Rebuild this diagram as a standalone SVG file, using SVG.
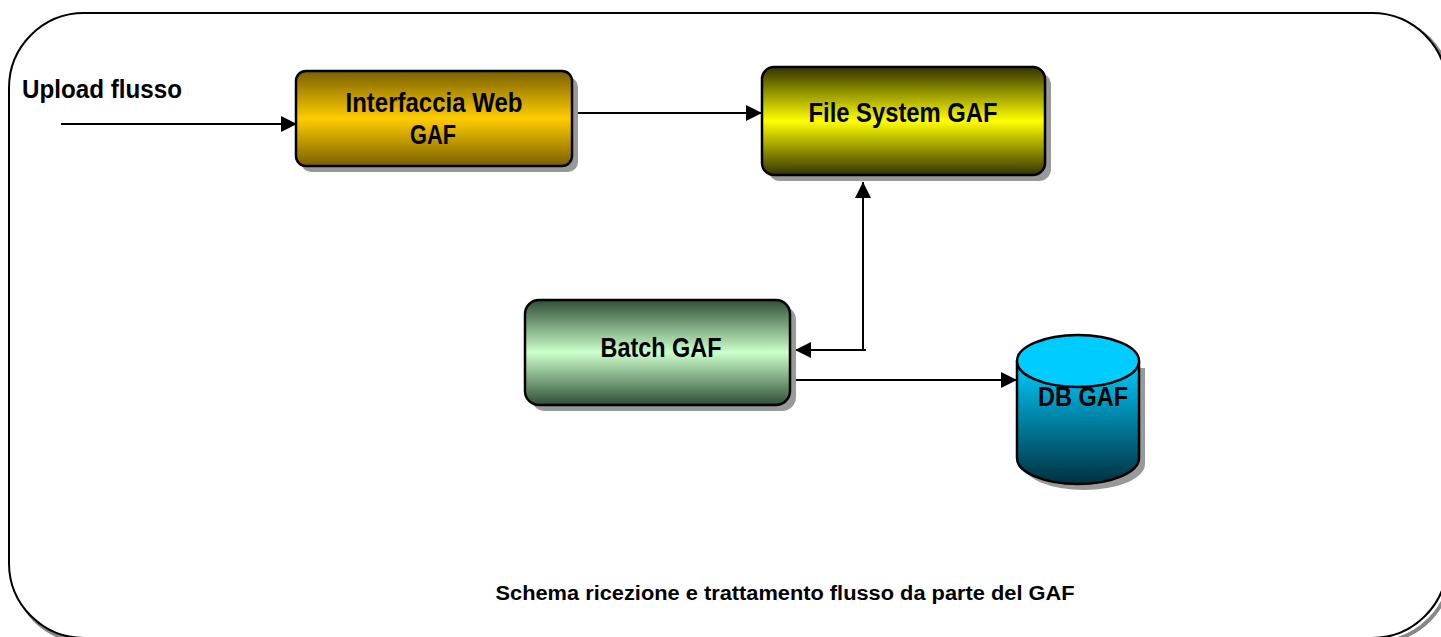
<svg xmlns="http://www.w3.org/2000/svg" width="1441" height="637" viewBox="0 0 1441 637">
<style>
.lbl{font-family:"Liberation Sans",Arial,sans-serif;font-weight:bold;fill:#000;text-anchor:middle}
.box{stroke:#000;stroke-width:2.5}
.shadow{fill:#999}
.conn{stroke:#000;stroke-width:2;fill:none}
</style>
<defs>
<linearGradient id="gOrange" x1="0" y1="0" x2="0" y2="1">
<stop offset="0" stop-color="#7a6000"/><stop offset="0.5" stop-color="#ffcc00"/><stop offset="1" stop-color="#7a6000"/>
</linearGradient>
<linearGradient id="gYellow" x1="0" y1="0" x2="0" y2="1">
<stop offset="0" stop-color="#333300"/><stop offset="0.5" stop-color="#ffff00"/><stop offset="1" stop-color="#333300"/>
</linearGradient>
<linearGradient id="gGreen" x1="0" y1="0" x2="0" y2="1">
<stop offset="0" stop-color="#2f4f35"/><stop offset="0.5" stop-color="#ccffcc"/><stop offset="1" stop-color="#2f4f35"/>
</linearGradient>
<linearGradient id="gBlue" x1="0" y1="0" x2="0" y2="1">
<stop offset="0" stop-color="#00ccff"/><stop offset="1" stop-color="#00303f"/>
</linearGradient>
<marker id="arrow" viewBox="0 0 14 14" refX="14" refY="7" markerWidth="16" markerHeight="16" markerUnits="userSpaceOnUse" orient="auto">
<path d="M0,0 L14,7 L0,14 z" fill="#000"/>
</marker>
</defs>
<rect x="0" y="0" width="1441" height="637" fill="#fff"/>
<g id="frame">
<rect x="13" y="17" width="1438" height="625" rx="75" ry="75" fill="none" stroke="#888" stroke-width="4"/>
<rect x="9" y="13" width="1438" height="625" rx="75" ry="75" fill="#fff" stroke="#000" stroke-width="2"/>
</g>
<g id="connectors">
<line class="conn" x1="61" y1="124" x2="297" y2="124" marker-end="url(#arrow)"/>
<line class="conn" x1="573" y1="113" x2="762" y2="113" marker-end="url(#arrow)"/>
<polyline class="conn" points="866,350 863,350 863,182" marker-end="url(#arrow)"/>
<line class="conn" x1="866" y1="350" x2="795" y2="350" marker-end="url(#arrow)"/>
<line class="conn" x1="791" y1="380" x2="1017" y2="380" marker-end="url(#arrow)"/>
</g>
<g id="upload-label">
<text class="lbl" x="102" y="98" font-size="26" textLength="160" lengthAdjust="spacingAndGlyphs">Upload flusso</text>
</g>
<g id="interfaccia-web">
<rect class="shadow" x="301" y="77" width="277" height="95" rx="10"/>
<rect class="box" x="296" y="71" width="276" height="95" rx="10" fill="url(#gOrange)"/>
<text class="lbl" x="434" y="112" font-size="27" textLength="177" lengthAdjust="spacingAndGlyphs">Interfaccia Web</text>
<text class="lbl" x="433" y="144" font-size="27" textLength="46" lengthAdjust="spacingAndGlyphs">GAF</text>
</g>
<g id="file-system">
<rect class="shadow" x="768" y="73" width="283" height="108" rx="12"/>
<rect class="box" x="762" y="67" width="283" height="108" rx="12" fill="url(#gYellow)"/>
<text class="lbl" x="903" y="122" font-size="27" textLength="189" lengthAdjust="spacingAndGlyphs">File System GAF</text>
</g>
<g id="batch">
<rect class="shadow" x="531" y="306" width="265" height="105" rx="14"/>
<rect class="box" x="525" y="300" width="265" height="105" rx="14" fill="url(#gGreen)"/>
<text class="lbl" x="661" y="357" font-size="27" textLength="121" lengthAdjust="spacingAndGlyphs">Batch GAF</text>
</g>
<g id="db">
<path d="M1023,368 L1023,464 A61,26 0 0 0 1145,464 L1145,368 Z" fill="#999"/>
<path class="box" d="M1017,362 L1017,458 A61,26 0 0 0 1139,458 L1139,362 Z" fill="url(#gBlue)"/>
<ellipse class="box" cx="1078" cy="361" rx="61" ry="26" fill="#00ccff"/>
<text class="lbl" x="1083" y="406" font-size="27" textLength="90" lengthAdjust="spacingAndGlyphs">DB GAF</text>
</g>
<g id="caption">
<text class="lbl" x="785" y="600" font-size="20" textLength="579" lengthAdjust="spacingAndGlyphs">Schema ricezione e trattamento flusso da parte del GAF</text>
</g>
</svg>
